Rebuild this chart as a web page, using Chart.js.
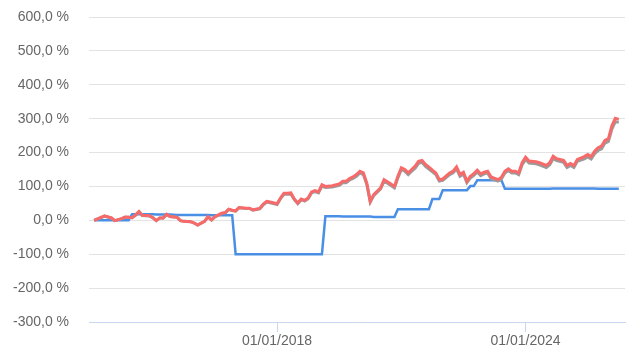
<!DOCTYPE html>
<html>
<head>
<meta charset="utf-8">
<script src="https://cdn.jsdelivr.net/npm/chart.js@4/dist/chart.umd.min.js"></script>
<style>
  html, body { margin: 0; padding: 0; background: #fff; }
  #wrap { width: 631px; height: 351px; position: relative; }
</style>
</head>
<body>
<div id="wrap"><canvas id="perfChart"></canvas></div>
<script>
// monthly points (YYYY-MM)
const months = [
    "2013-08", "2013-11",
    "2014-01", "2014-02", "2014-04", "2014-05", "2014-06", "2014-07", "2014-08", "2014-09", "2014-10", "2014-12",
    "2015-01", "2015-02", "2015-03", "2015-04", "2015-05", "2015-06", "2015-08", "2015-09", "2015-10", "2015-12",
    "2016-01", "2016-02", "2016-04", "2016-05", "2016-06", "2016-07", "2016-09", "2016-10", "2016-11", "2016-12",
    "2017-01", "2017-02", "2017-04", "2017-05", "2017-06", "2017-08", "2017-09", "2017-10", "2017-11",
    "2018-01", "2018-02", "2018-03", "2018-04", "2018-05", "2018-06", "2018-07", "2018-08", "2018-09", "2018-10", "2018-11", "2018-12",
    "2019-01", "2019-02", "2019-03", "2019-05", "2019-07", "2019-08", "2019-09", "2019-10", "2019-11", "2019-12",
    "2020-01", "2020-02", "2020-03", "2020-04", "2020-05", "2020-07", "2020-08", "2020-10", "2020-11", "2020-12",
    "2021-01", "2021-02", "2021-03", "2021-04", "2021-05", "2021-06", "2021-07", "2021-08", "2021-09", "2021-10", "2021-11", "2021-12",
    "2022-01", "2022-03", "2022-04", "2022-05", "2022-06", "2022-07", "2022-08", "2022-09", "2022-10", "2022-11", "2022-12",
    "2023-01", "2023-02", "2023-03", "2023-05", "2023-06", "2023-07", "2023-08", "2023-09", "2023-10", "2023-11", "2023-12",
    "2024-01", "2024-02", "2024-04", "2024-05", "2024-07", "2024-08", "2024-09", "2024-10", "2024-12",
    "2025-01", "2025-02", "2025-03", "2025-04", "2025-06", "2025-07", "2025-08", "2025-09", "2025-10", "2025-11", "2025-12",
    "2026-01", "2026-02", "2026-03", "2026-04"
];

// performance in %
const portfolio = [
    0, 13,
    7, -1, 5, 10, 9, 8, 16, 26, 14, 14,
    8, -1, 7, 7, 18, 11, 9, -1, -3, -4,
    -8, -14, -3, 11, 1, 11, 21, 23, 33, 30,
    28, 38, 36, 36, 31, 35, 48, 56, 54,
    49, 66, 80, 80, 81, 63, 51, 63, 59, 66, 84, 88,
    84, 105, 100, 102, 107, 115, 115, 123, 128, 135,
    145, 140, 110, 56, 76, 96, 120, 107, 100, 130,
    155, 150, 140, 150, 160, 174, 177, 165, 157, 148, 140, 120,
    122, 140, 145, 158, 135, 142, 115, 130, 138, 148, 137,
    142, 145, 128, 120, 127, 145, 152, 145, 145, 140, 170,
    186, 175, 173, 170, 162, 170, 189, 182, 177,
    162, 168, 162, 180, 188, 194, 188, 204, 214, 219, 236,
    241, 279, 301, 298
];

const benchmark = [
    0, 12,
    7, -1, 5, 9, 9, 8, 15, 25, 14, 13,
    8, -1, 7, 7, 17, 11, 9, -1, -3, -4,
    -8, -14, -3, 10, 1, 10, 20, 22, 32, 29,
    27, 37, 35, 35, 30, 34, 46, 54, 52,
    47, 64, 77, 77, 78, 61, 49, 61, 57, 64, 81, 85,
    81, 101, 97, 98, 103, 111, 111, 119, 124, 130,
    140, 135, 106, 54, 73, 93, 116, 103, 96, 125,
    150, 145, 135, 145, 154, 168, 171, 159, 151, 143, 135, 116,
    118, 135, 140, 152, 130, 137, 111, 125, 133, 143, 132,
    137, 140, 123, 116, 122, 140, 147, 140, 140, 135, 164,
    180, 169, 167, 164, 156, 164, 182, 176, 171,
    156, 162, 156, 174, 181, 187, 181, 197, 206, 211, 228,
    233, 269, 291, 289
];

const invested = [
    0, 0,
    0, 0, 0, 0, 0, 18, 18, 18, 18, 18,
    18, 17, 17, 17, 17, 17, 16, 16, 16, 16,
    16, 16, 16, 16, 15, 15, 15, 15, 15, 15,
    -100, -100, -100, -100, -100, -100, -100, -100, -100,
    -100, -100, -100, -100, -100, -100, -100, -100, -100, -100, -100, -100,
    -100, -100, 12, 12, 12, 11, 11, 11, 11, 11,
    11, 11, 11, 11, 10, 10, 10, 10, 10, 33,
    33, 33, 33, 33, 33, 33, 33, 33, 33, 63, 63, 63,
    89, 89, 89, 89, 89, 89, 89, 101, 101, 118, 118,
    118, 118, 118, 118, 118, 93, 93, 93, 93, 93, 93,
    93, 93, 93, 93, 93, 93, 94, 94, 94,
    94, 94, 94, 94, 94, 94, 94, 94, 93, 93, 93,
    93, 93, 93, 93
];

const xTicks = [2018, 2024];

function toYear(m) {
    const [y, mo] = m.split("-").map(Number);
    return y + (mo - 1) / 12;
}

function points(values) {
    return values.map((v, i) => ({ x: toYear(months[i]), y: v }));
}

const fontFamily = "'Liberation Sans', Arial, sans-serif";

new Chart(document.getElementById("perfChart"), {
    type: "line",
    data: {
        datasets: [
            {
                label: "Portefeuille",
                data: points(portfolio),
                borderColor: "#f76a6a",
                borderWidth: 3,
                pointRadius: 0,
                tension: 0,
            },
            {
                label: "Indice",
                data: points(benchmark),
                borderColor: "#9b9b9b",
                borderWidth: 3,
                pointRadius: 0,
                tension: 0,
            },
            {
                label: "Versements",
                data: points(invested),
                borderColor: "#4a8fe6",
                borderWidth: 2.5,
                pointRadius: 0,
                tension: 0,
            },
        ],
    },
    options: {
        responsive: true,
        maintainAspectRatio: false,
        animation: false,
        layout: { padding: { left: 13, right: 6, top: 17, bottom: 0 } },
        plugins: {
            legend: { display: false },
            tooltip: { enabled: false },
        },
        scales: {
            x: {
                type: "linear",
                min: 2013.46,
                max: 2026.4,
                afterBuildTicks: (scale) => {
                    scale.ticks = xTicks.map((v) => ({ value: v }));
                },
                afterFit: (scale) => {
                    scale.height = 29;
                },
                ticks: {
                    autoSkip: false,
                    maxRotation: 0,
                    padding: 1,
                    color: "#666",
                    font: { family: fontFamily, size: 14 },
                    callback: (v) => "01/01/" + v,
                },
                grid: {
                    drawOnChartArea: false,
                    color: "#c8d6ee",
                    tickLength: 10,
                },
                border: { color: "#c8d6ee", width: 1 },
            },
            y: {
                min: -300,
                max: 600,
                afterFit: (scale) => {
                    // fixed label column, no extra top/bottom gap
                    scale.width = 76;
                    scale.paddingTop = 8;
                    scale.paddingBottom = 0;
                },
                ticks: {
                    stepSize: 100,
                    padding: 20,
                    color: "#666",
                    font: { family: fontFamily, size: 14 },
                    callback: (v) => v.toFixed(1).replace(".", ",") + " %",
                },
                grid: {
                    color: "#e3e3e3",
                    drawTicks: false,
                },
                border: { display: false },
            },
        },
    },
});
</script>
</body>
</html>
